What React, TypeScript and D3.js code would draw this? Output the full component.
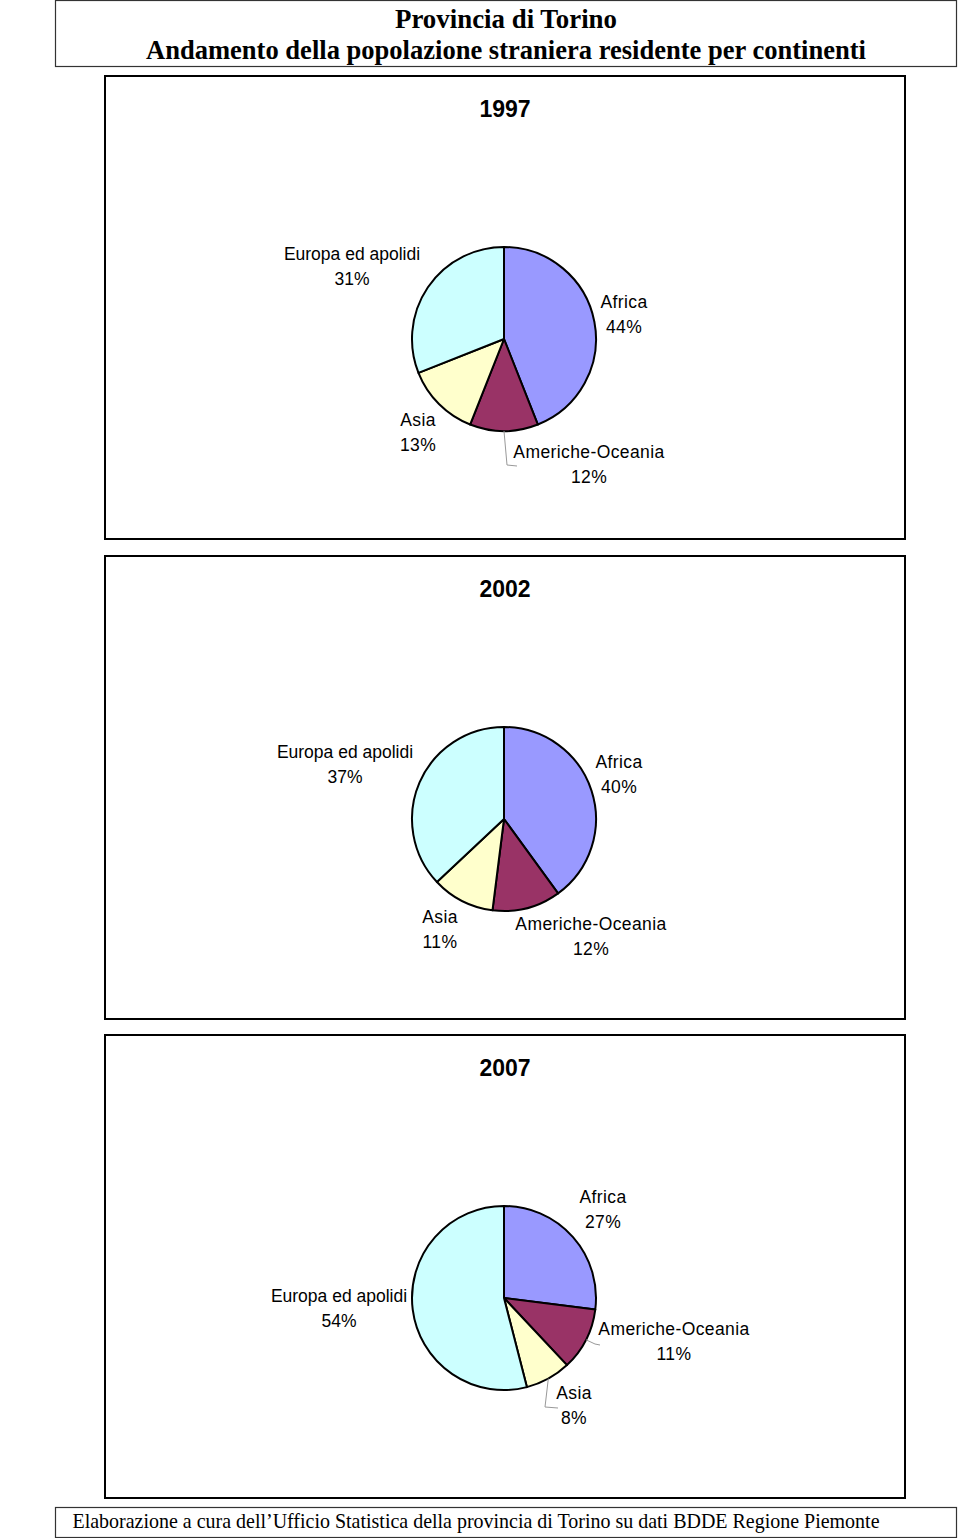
import React from "react";
import * as d3 from "d3";

const categories = ["Africa", "Americhe-Oceania", "Asia", "Europa ed apolidi"];
const years = ["1997", "2002", "2007"];
const values1997 = [44, 12, 13, 31];
const values2002 = [40, 12, 11, 37];
const values2007 = [27, 11, 8, 54];
const seriesValues = [values1997, values2002, values2007];
const colors = ["#9999FF", "#993366", "#FFFFCC", "#CCFFFF"];

const titleLine1 = "Provincia di Torino";
const titleLine2 = "Andamento della popolazione straniera residente per continenti";
const footerText = "Elaborazione a cura dell\u2019Ufficio Statistica della provincia di Torino su dati BDDE Regione Piemonte";

// Layout: label centres (dx, dy of first baseline relative to pie centre) per panel/category
const labelLayout = [
  [
    { dx: 120, dy: -31, leader: false },
    { dx: 85, dy: 119, leader: true, lx: 3, ly: 126, ex: 8 },
    { dx: -86, dy: 87, leader: false },
    { dx: -152, dy: -79, leader: false },
  ],
  [
    { dx: 115, dy: -51, leader: false },
    { dx: 87, dy: 111, leader: false },
    { dx: -64, dy: 104, leader: false },
    { dx: -159, dy: -61, leader: false },
  ],
  [
    { dx: 99, dy: -95, leader: false },
    { dx: 170, dy: 37, leader: true, lx: 91, ly: 46, ex: 91 },
    { dx: 70, dy: 101, leader: true, lx: 41, ly: 109, ex: 49 },
    { dx: -165, dy: 4, leader: false },
  ],
];

const W = 960;
const H = 1538;
const panelX = 105;
const panelW = 800;
const panelTops = [76, 556, 1035];
const panelH = 463;
const pieCx = 504;
const pieOffsetY = 263;
const radius = 92;

export default function App() {
  const pie = d3
    .pie<number>()
    .sort(null)
    .value((d) => d)
    .startAngle(0)
    .endAngle(2 * Math.PI);
  const arc = d3.arc<d3.PieArcDatum<number>>().innerRadius(0).outerRadius(radius);
  const labelFont = "'Liberation Sans', Arial, sans-serif";
  const serif = "'Liberation Serif', 'Times New Roman', serif";

  return (
    <svg
      width={W}
      height={H}
      style={{ position: "absolute", left: 0, top: 0, background: "#fff" }}
    >
      <rect x={0} y={0} width={W} height={H} fill="#fff" />
      {/* header */}
      <rect x={55.5} y={0.5} width={901} height={66} fill="#fff" stroke="#333" strokeWidth={1.2} />
      <text x={506} y={28} textAnchor="middle" fontFamily={serif} fontWeight="bold" fontSize={27} textLength={222} lengthAdjust="spacingAndGlyphs">
        {titleLine1}
      </text>
      <text x={506} y={59} textAnchor="middle" fontFamily={serif} fontWeight="bold" fontSize={27} textLength={720} lengthAdjust="spacingAndGlyphs">
        {titleLine2}
      </text>

      {years.map((yr, i) => {
        const top = panelTops[i];
        const cy = top + pieOffsetY;
        const arcs = pie(seriesValues[i]);
        return (
          <g key={yr}>
            <rect x={panelX} y={top} width={panelW} height={panelH} fill="#fff" stroke="#000" strokeWidth={2} />
            <text x={505} y={top + 41} textAnchor="middle" fontFamily={labelFont} fontWeight="bold" fontSize={23}>
              {yr}
            </text>
            <g transform={`translate(${pieCx},${cy})`}>
              {arcs.map((a, j) => (
                <path key={j} d={arc(a) || ""} fill={colors[j]} stroke="#000" strokeWidth={2} strokeLinejoin="round" />
              ))}
              {arcs.map((a, j) => {
                const L = labelLayout[i][j];
                if (!L.leader) return null;
                const mid = (a.startAngle + a.endAngle) / 2;
                const px = Math.sin(mid) * radius;
                const py = -Math.cos(mid) * radius;
                return (
                  <polyline
                    key={"l" + j}
                    points={`${px},${py} ${L.lx},${L.ly} ${L.ex + 5},${L.ly + 1}`}
                    fill="none"
                    stroke="#999"
                    strokeWidth={1}
                  />
                );
              })}
              {arcs.map((a, j) => {
                const L = labelLayout[i][j];
                return (
                  <text key={"t" + j} textAnchor="middle" fontFamily={labelFont} fontSize={17.5} fill="#000" letterSpacing={categories[j] === "Europa ed apolidi" ? 0 : 0.4}>
                    <tspan x={L.dx} y={L.dy}>{categories[j]}</tspan>
                    <tspan x={L.dx} y={L.dy + 25}>{`${seriesValues[i][j]}%`}</tspan>
                  </text>
                );
              })}
            </g>
          </g>
        );
      })}

      {/* footer */}
      <rect x={55.5} y={1507.5} width={901} height={30} fill="#fff" stroke="#333" strokeWidth={1.2} />
      <text x={476} y={1528} textAnchor="middle" fontFamily={serif} fontSize={21} textLength={807} lengthAdjust="spacingAndGlyphs">
        {footerText}
      </text>
    </svg>
  );
}
